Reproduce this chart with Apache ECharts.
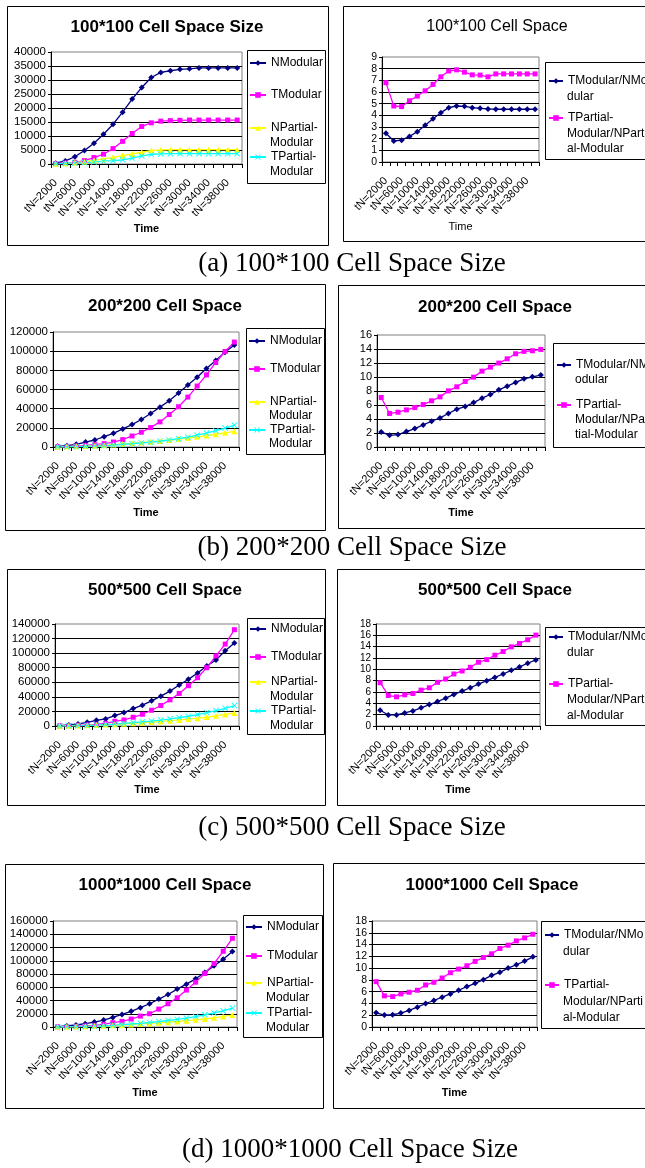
<!DOCTYPE html>
<html><head><meta charset="utf-8">
<script src="https://cdn.jsdelivr.net/npm/echarts@6/dist/echarts.min.js"></script>
<style>html,body{margin:0;padding:0;background:#fff;overflow:hidden}#c{width:645px;height:1168px}</style>
</head><body><div id="c"></div>
<script>
// ---------- DATA ----------
const categories = ['tN=2000','tN=4000','tN=6000','tN=8000','tN=10000','tN=12000','tN=14000','tN=16000','tN=18000','tN=20000',
  'tN=22000','tN=24000','tN=26000','tN=28000','tN=30000','tN=32000','tN=34000','tN=36000','tN=38000','tN=40000'];

// (a) 100*100
const aNModular = [300,1100,2600,4800,7400,10600,14200,18500,23200,27300,30900,32700,33300,33800,34000,34300,34300,34300,34300,34300];
const aTModular = [100,300,600,1200,2300,3500,5500,8100,10900,13400,14700,15300,15500,15600,15700,15700,15700,15700,15700,15700];
const aNPartial = [100,250,500,800,1300,1800,2400,3000,3600,4200,4800,5000,5100,5100,5100,5100,5100,5100,5100,5100];
const aTPartial = [100,200,400,500,700,1000,1200,1500,2100,2900,3400,3600,3700,3700,3700,3700,3700,3700,3700,3700];
const aRatioModular = [2.47,1.8,1.87,2.19,2.6,3.15,3.7,4.23,4.66,4.8,4.77,4.66,4.6,4.55,4.52,4.52,4.52,4.52,4.52,4.52];
const aRatioPartial = [6.8,4.8,4.75,5.25,5.65,6.1,6.65,7.3,7.8,7.9,7.7,7.47,7.45,7.3,7.55,7.55,7.55,7.55,7.55,7.55];

// (b) 200*200
const bNModular = [700,1400,2800,5200,7300,10800,14300,18900,23400,28700,35000,41600,48300,56300,64700,72800,81900,90300,99000,106400];
const bTModular = [300,600,1000,1700,2400,3500,5200,7700,11500,15400,20300,26200,33900,42000,52100,63600,75200,88200,99700,109500];
const bNPartial = [200,400,700,1000,1400,1900,2500,3100,3800,4600,5400,6300,7300,8300,9400,10600,11900,13300,14800,16400];
const bTPartial = [100,200,400,700,1100,1500,2000,2700,3400,4200,5000,6000,7300,8700,10200,12300,14500,17000,19800,22800];
const bRatioModular = [2.15,1.67,1.77,2.2,2.63,3.15,3.68,4.15,4.78,5.4,5.78,6.35,6.97,7.5,8.17,8.69,9.22,9.74,10.03,10.27];
const bRatioPartial = [7.07,4.78,4.97,5.3,5.63,6.06,6.6,7.16,8.02,8.6,9.36,9.98,10.84,11.41,11.99,12.6,13.32,13.66,13.75,13.94];

// (c) 500*500
const cNModular = [500,1400,2800,5100,7800,9700,14300,18400,24000,28600,34500,41000,47900,56200,64000,72800,82400,90700,103200,113800];
const cTModular = [200,500,900,1400,2300,3700,6400,8300,12000,16100,21600,28100,35900,44700,55300,66300,80100,96300,112400,132200];
const cNPartial = [200,400,700,1000,1400,1900,2500,3100,3800,4600,5400,6300,7300,8300,9500,10800,12200,13900,15900,18000];
const cTPartial = [100,300,500,800,1300,1900,2600,3500,4500,5600,6800,8200,9800,11500,13400,15700,18400,21200,24200,28000];
const cRatioModular = [2.78,1.95,1.95,2.31,2.66,3.2,3.79,4.32,4.91,5.57,6.16,6.75,7.4,7.99,8.58,9.18,9.83,10.42,11.07,11.66];
const cRatioPartial = [7.64,5.39,5.15,5.5,5.74,6.33,6.75,7.7,8.29,9.18,9.71,10.36,11.25,11.72,12.49,13.14,13.97,14.57,15.22,16.04];

// (d) 1000*1000
const dNModular = [500,1500,3000,5000,7500,10500,14500,19000,23600,29100,35100,42100,49100,57200,64700,72700,82200,92300,102300,113800];
const dTModular = [200,500,900,1500,2500,4000,6500,8500,12000,16500,20000,27000,35100,44100,55700,67700,80700,95800,114300,133900];
const dNPartial = [200,400,700,1000,1400,1900,2500,3100,3800,4600,5400,6300,7300,8300,9500,10800,12200,13900,15900,18000];
const dTPartial = [100,300,500,800,1300,1900,2600,3500,4500,5600,6800,8200,9800,11500,13400,15700,18400,21200,24200,28600];
const dRatioModular = [2.4,2.02,2.08,2.36,2.81,3.37,3.99,4.5,5.06,5.62,6.24,6.86,7.42,8.04,8.77,9.28,10.01,10.57,11.19,11.92];
const dRatioPartial = [7.7,5.29,5.17,5.62,5.9,6.24,7.14,7.59,8.32,9.22,9.84,10.4,11.14,11.81,12.43,13.33,13.89,14.62,15.13,15.75];

const captions = ['(a) 100*100 Cell Space Size','(b) 200*200 Cell Space Size','(c) 500*500 Cell Space Size','(d) 1000*1000 Cell Space Size'];

// ---------- STYLE / LAYOUT ----------
const SANS = '"Liberation Sans", Arial, sans-serif';
const XPATH = 'path://M1,0L5,4L9,0L10,1L6,5L10,9L9,10L5,6L1,10L0,9L4,5L0,1Z';
const STY = {
  N:  {color:'#000080', symbol:'diamond', size:6},
  T:  {color:'#FF00FF', symbol:'rect', size:5},
  NP: {color:'#FFFF00', symbol:'triangle', size:6},
  TP: {color:'#00FFFF', symbol:XPATH, size:6}
};
const N1='NModular', N2='TModular', N3='NPartial-Modular', N4='TPartial-Modular';
const R1='TModular/NModular', R2='TPartial-Modular/NPartial-Modular';

function absSeries(n,t,np,tp){return [{name:N1,data:n,sty:'N'},{name:N2,data:t,sty:'T'},{name:N3,data:np,sty:'NP'},{name:N4,data:tp,sty:'TP'}];}
function ratSeries(m,p){return [{name:R1,data:m,sty:'N'},{name:R2,data:p,sty:'T'}];}
function absItems(y1,y2,y3,y4){return [{name:N1,lines:['NModular'],y:y1},{name:N2,lines:['TModular'],y:y2},{name:N3,lines:['NPartial-','Modular'],y:y3},{name:N4,lines:['TPartial-','Modular'],y:y4}];}

const layouts = [
  {panel:[7,6,321,239], title:'100*100 Cell Space Size', tx:167, ty:27, tBold:true, tSize:17, yFont:11.5,
   grid:[51,52,191,112], yMax:40000, yInt:5000, box:[247,50,78,133], iconX:249, iconW:16, gap:15,
   items:absItems(63,95,128,157), timeBold:true, nameGap:59, series:absSeries(aNModular,aTModular,aNPartial,aTPartial)},
  {panel:[343,6,340,235], title:'100*100 Cell Space', tx:497, ty:27, tBold:false, tSize:16, yFont:10.5,
   grid:[382,57,157,105], yMax:9, yInt:1, box:[545,62,140,97], iconX:548, iconW:14, gap:15.5,
   items:[{name:R1,lines:['TModular/NMo','dular'],y:81},{name:R2,lines:['TPartial-','Modular/NParti','al-Modular'],y:118}],
   timeBold:false, nameGap:59, series:ratSeries(aRatioModular,aRatioPartial)},
  {panel:[5,284,320,246], title:'200*200 Cell Space', tx:165, ty:306, tBold:true, tSize:17, yFont:11.5,
   grid:[53,332,186,115], yMax:120000, yInt:20000, box:[246,328,78,126], iconX:248, iconW:16, gap:14,
   items:absItems(341,369,402,430), timeBold:true, nameGap:60, series:absSeries(bNModular,bTModular,bNPartial,bTPartial)},
  {panel:[338,285,340,243], title:'200*200 Cell Space', tx:495, ty:307, tBold:true, tSize:17, yFont:11,
   grid:[377,335,168,112], yMax:16, yInt:2, box:[553,343,140,104], iconX:556, iconW:14, gap:15,
   items:[{name:R1,lines:['TModular/NM','odular'],y:365},{name:R2,lines:['TPartial-','Modular/NPar','tial-Modular'],y:405}],
   timeBold:true, nameGap:60, series:ratSeries(bRatioModular,bRatioPartial)},
  {panel:[7,569,318,236], title:'500*500 Cell Space', tx:165, ty:590, tBold:true, tSize:17, yFont:11.5,
   grid:[55,624,184,102], yMax:140000, yInt:20000, box:[247,618,77,116], iconX:249, iconW:16, gap:15,
   items:absItems(629,657,682,711), timeBold:true, nameGap:58, series:absSeries(cNModular,cTModular,cNPartial,cTPartial)},
  {panel:[337,569,340,236], title:'500*500 Cell Space', tx:495, ty:590, tBold:true, tSize:17, yFont:10,
   grid:[376,624,164,102], yMax:18, yInt:2, box:[545,627,140,98], iconX:548, iconW:14, gap:16,
   items:[{name:R1,lines:['TModular/NMo','dular'],y:637},{name:R2,lines:['TPartial-','Modular/NParti','al-Modular'],y:684}],
   timeBold:true, nameGap:58, series:ratSeries(cRatioModular,cRatioPartial)},
  {panel:[5,864,318,244], title:'1000*1000 Cell Space', tx:165, ty:885, tBold:true, tSize:17, yFont:11.5,
   grid:[53,921,184,106], yMax:160000, yInt:20000, box:[243,915,79,122], iconX:245, iconW:16, gap:15,
   items:absItems(927,956,983,1013), timeBold:true, nameGap:60, series:absSeries(dNModular,dTModular,dNPartial,dTPartial)},
  {panel:[333,863,340,245], title:'1000*1000 Cell Space', tx:492, ty:885, tBold:true, tSize:17, yFont:10.5,
   grid:[372,921,165,106], yMax:18, yInt:2, box:[541,921,140,107], iconX:544, iconW:14, gap:16.5,
   items:[{name:R1,lines:['TModular/NMo','dular'],y:935},{name:R2,lines:['TPartial-','Modular/NParti','al-Modular'],y:985}],
   timeBold:true, nameGap:60, series:ratSeries(dRatioModular,dRatioPartial)}
];
const captionPos = [[352,264],[352,548],[352,828],[350,1150]];

// ---------- BUILD ----------
const option = {animation:false, backgroundColor:'#fff', title:[], legend:[], grid:[], xAxis:[], yAxis:[], series:[], graphic:[]};
layouts.forEach((L,i)=>{
  const [px,py,pw,ph] = L.panel;
  option.graphic.push({type:'rect', silent:true, z:0, shape:{x:px+0.5,y:py+0.5,width:pw,height:ph}, style:{fill:'none',stroke:'#000',lineWidth:1}});
  const [bx,by,bw,bh] = L.box;
  option.graphic.push({type:'rect', silent:true, z:0, shape:{x:bx+0.5,y:by+0.5,width:bw,height:bh}, style:{fill:'none',stroke:'#000',lineWidth:1}});
  option.title.push({text:L.title, left:L.tx, top:L.ty, textAlign:'center', textVerticalAlign:'middle', padding:0,
    textStyle:{fontFamily:SANS, fontSize:L.tSize, fontWeight:L.tBold?'bold':'normal', color:'#000'}});
  option.grid.push({left:L.grid[0], top:L.grid[1], width:L.grid[2], height:L.grid[3], show:true, borderColor:'#808080', borderWidth:1, backgroundColor:'transparent'});
  option.xAxis.push({type:'category', gridIndex:i, data:categories, boundaryGap:true,
    name:'Time', nameLocation:'middle', nameGap:L.nameGap,
    nameTextStyle:{fontFamily:SANS, fontSize:11, fontWeight:L.timeBold?'bold':'normal', color:'#000'},
    axisLine:{show:true, lineStyle:{color:'#000', width:1}},
    axisTick:{show:true, interval:0, length:4, lineStyle:{color:'#000'}},
    axisLabel:{interval:1, rotate:45, fontFamily:SANS, fontSize:11, color:'#000', margin:17, hideOverlap:false},
    splitLine:{show:false}});
  option.yAxis.push({type:'value', gridIndex:i, min:0, max:L.yMax, interval:L.yInt,
    axisLine:{show:true, lineStyle:{color:'#000', width:1}},
    axisTick:{show:true, length:3, lineStyle:{color:'#000'}},
    axisLabel:{fontFamily:SANS, fontSize:L.yFont, color:'#000', margin:5, showMinLabel:true, showMaxLabel:true, hideOverlap:false,
      formatter:(v)=>String(v)},
    splitLine:{show:true, showMaxLine:false, lineStyle:{color:'#000', width:1}}});
  L.series.forEach(s=>{
    const st = STY[s.sty];
    option.series.push({type:'line', name:s.name, xAxisIndex:i, yAxisIndex:i, data:s.data,
      symbol:st.symbol, symbolSize:st.size, showSymbol:true, showAllSymbol:true,
      lineStyle:{color:st.color, width:1.3}, itemStyle:{color:st.color, borderWidth:0},
      emphasis:{disabled:true}});
  });
  L.items.forEach(it=>{
    const first = it.lines[0];
    option.legend.push({data:[it.name], left:L.iconX, top:it.y-7, orient:'horizontal', padding:0,
      itemWidth:L.iconW, itemHeight:7, itemGap:0, selectedMode:false,
      formatter:()=>first,
      textStyle:{fontFamily:SANS, fontSize:12, color:'#000', lineHeight:14}});
    for (let k=1;k<it.lines.length;k++){
      option.graphic.push({type:'text', silent:true, x:L.iconX+L.iconW+5, y:it.y+k*L.gap,
        style:{text:it.lines[k], fontFamily:SANS, fontSize:12, fill:'#000', align:'left', verticalAlign:'middle'}});
    }
  });
});
captions.forEach((c,i)=>{
  option.graphic.push({type:'text', silent:true, x:captionPos[i][0], y:captionPos[i][1],
    style:{text:c, fontFamily:'"Liberation Serif", "Times New Roman", serif', fontSize:27, fill:'#000', align:'center', verticalAlign:'middle'}});
});
const chart = echarts.init(document.getElementById('c'), null, {renderer:'canvas'});
chart.setOption(option);
</script>
</body></html>
